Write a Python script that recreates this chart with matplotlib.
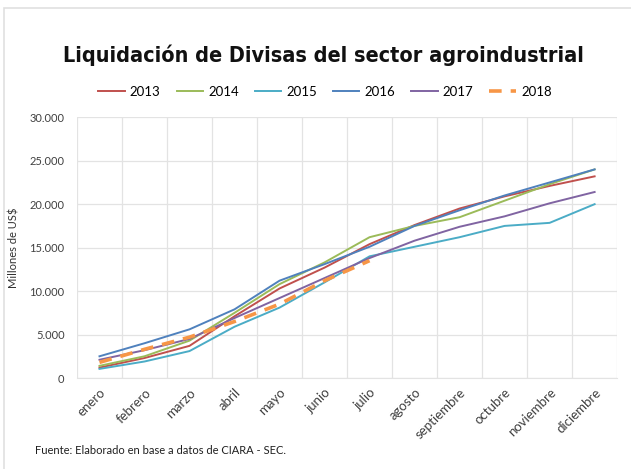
import matplotlib

matplotlib.use("Agg")
import matplotlib.pyplot as plt
from matplotlib.patches import Rectangle
from matplotlib.ticker import FuncFormatter

plt.rcParams["font.family"] = ["Lato", "DejaVu Sans"]

meses = ["enero", "febrero", "marzo", "abril", "mayo", "junio", "julio",
         "agosto", "septiembre", "octubre", "noviembre", "diciembre"]
anios = ["2013", "2014", "2015", "2016", "2017", "2018"]
v2013 = [1200, 2300, 3700, 7100, 10300, 12700, 15400, 17600, 19500, 20900, 22100, 23200]
v2014 = [1400, 2500, 4300, 7500, 10800, 13300, 16200, 17500, 18500, 20400, 22300, 24000]
v2015 = [1050, 1900, 3100, 5900, 8100, 11000, 14000, 15100, 16200, 17500, 17850, 20000]
v2016 = [2500, 4000, 5600, 7900, 11200, 13100, 15100, 17500, 19300, 21000, 22500, 24000]
v2017 = [2100, 3200, 4500, 6900, 9200, 11500, 13800, 15800, 17400, 18600, 20100, 21400]
v2018 = [1800, 3300, 4700, 6500, 8500, 11200, 13500]
series = [v2013, v2014, v2015, v2016, v2017, v2018]
colores = ["#C0504D", "#9BBB59", "#4BACC6", "#4F81BD", "#8064A2", "#F79646"]

fig = plt.figure(figsize=(6.31, 4.69), dpi=100)
ax = fig.add_axes([0.122, 0.194, 0.856, 0.556])

for anio, vals, c in zip(anios, series, colores):
    x = list(range(len(vals)))
    if anio == "2018":
        ax.plot(x, vals, color=c, lw=2.6, ls=(0, (3.5, 2.5)), label=anio, zorder=5)
    else:
        ax.plot(x, vals, color=c, lw=1.4, label=anio)

ax.set_xlim(-0.5, len(meses) - 0.5)
ax.set_ylim(0, 30000)
ax.set_yticks(range(0, 30001, 5000))
ax.yaxis.set_major_formatter(FuncFormatter(lambda v, p: f"{int(v):,}".replace(",", ".")))
ax.set_xticks(range(len(meses)))
ax.set_xticklabels(meses, rotation=45, ha="right", rotation_mode="anchor", fontsize=9.5)
ax.set_xticks([i - 0.5 for i in range(len(meses) + 1)], minor=True)
ax.tick_params(axis="both", which="both", length=0, colors="#404040")
ax.tick_params(axis="y", labelsize=8, pad=9)
ax.tick_params(axis="x", pad=6)
ax.grid(True, which="minor", axis="x", color="#E3E3E3", lw=0.9)
ax.grid(True, which="major", axis="y", color="#E3E3E3", lw=0.9)
for s in ax.spines.values():
    s.set_visible(False)
ax.spines["bottom"].set_visible(True)
ax.spines["bottom"].set_color("#E3E3E3")
ax.set_ylabel("Millones de US$", fontsize=8, color="#303030", labelpad=7)

fig.text(0.513, 0.882, "Liquidación de Divisas del sector agroindustrial",
         ha="center", va="center", fontsize=15.5, fontweight="bold", color="#111111",
         family="DejaVu Sans", fontstretch="condensed")
fig.legend(loc="center", bbox_to_anchor=(0.515, 0.804), ncol=6, frameon=False,
           fontsize=9.5, handlelength=2.0, handletextpad=0.4, columnspacing=1.2)
fig.text(0.055, 0.04, "Fuente: Elaborado en base a datos de CIARA - SEC.",
         ha="left", va="center", fontsize=8, color="#202020")

fig.patches.append(Rectangle((0.006, -0.1), 1.1, 1.083, transform=fig.transFigure,
                             fill=False, edgecolor="#E0E0E0", lw=1.2))

fig.savefig("out.png", dpi=100)
